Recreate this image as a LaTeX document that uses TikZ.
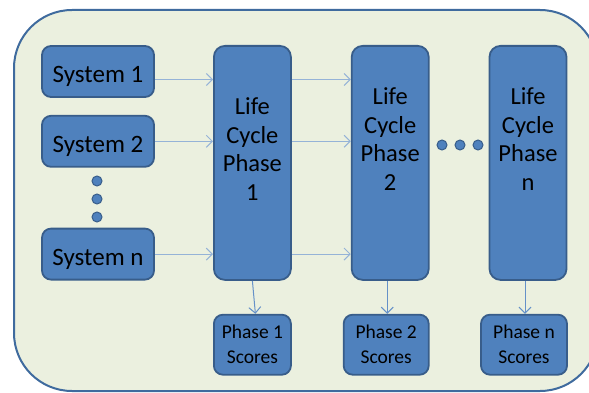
\documentclass[tikz,border=0pt]{standalone}
\usepackage{fontspec}
\setmainfont{Carlito}
\usepackage{xcolor}
\usetikzlibrary{arrows.meta, positioning}

\definecolor{bgfill}{HTML}{EBF0DF}
\definecolor{frameblue}{HTML}{3F6B9E}
\definecolor{boxfill}{HTML}{4F81BD}
\definecolor{boxedge}{HTML}{385D8A}
\definecolor{flowblue}{HTML}{95B3D7}
\definecolor{scoreblue}{HTML}{6591C8}

\begin{document}
\begin{tikzpicture}[x=1pt, y=-1pt, >={Straight Barb[length=6pt,width=12pt]}]
        \tikzset{
            sysbox/.style={rectangle, draw=boxedge, line width=1.8pt, fill=boxfill, rounded corners=9pt, minimum width=112pt, minimum height=51pt, text height=22pt, text depth=0pt, font=\fontsize{25}{29}\selectfont},
            phasebox/.style={rectangle, draw=boxedge, line width=1.8pt, fill=boxfill, rounded corners=11pt, minimum width=77pt, minimum height=234pt},
            phasetext/.style={align=center, font=\fontsize{24.5}{28.5}\selectfont, inner sep=0pt},
            scorebox/.style={rectangle, draw=boxedge, line width=1.8pt, fill=boxfill, rounded corners=9pt, minimum height=60pt, align=center, font=\fontsize{19.5}{25}\selectfont},
            dot/.style={circle, draw=boxedge, line width=1pt, fill=boxfill, inner sep=0pt, minimum size=10pt},
            flow/.style={->, draw=flowblue, line width=1pt},
            score/.style={->, draw=scoreblue, line width=1pt}
        }

        \useasboundingbox (0,0) rectangle (589,393);
        % outer panel
        \draw[fill=bgfill, draw=frameblue, line width=2pt, rounded corners=58pt] (14,10) rectangle (598,391);

        % systems
        \node[sysbox] (s1) at (98,71.5) {System 1};
        \node[sysbox, below=17pt of s1] (s2) {System 2};
        \node[sysbox, below=60pt of s2] (sn) {System n};
        \node[dot] (d1) at (97,181) {};
        \node[dot, below=7pt of d1] (d2) {};
        \node[dot, below=7pt of d2] (d3) {};

        % life cycle phases
        \node[phasebox, anchor=north west] (p1) at (213,45) {};
        \node[phasebox, right=59pt of p1] (p2) {};
        \node[phasebox, right=59pt of p2] (pn) {};
        \node[phasetext] (t1) at ([yshift=-104pt]p1.north) {Life\\Cycle\\Phase\\1};
        \node[phasetext] (t2) at ([yshift=-94pt]p2.north) {Life\\Cycle\\Phase\\2};
        \node[phasetext] (tn) at ([yshift=-94pt]pn.north) {Life\\Cycle\\Phase\\n};
        \node[dot] (h2) at (460,145) {};
        \node[dot, left=7pt of h2] (h1) {};
        \node[dot, right=7pt of h2] (h3) {};

        % scores
        \node[scorebox, minimum width=77pt, below=33pt of p1] (c1) {Phase 1\\Scores};
        \node[scorebox, minimum width=85pt, below=33pt of p2, xshift=-4pt] (c2) {Phase 2\\Scores};
        \node[scorebox, minimum width=86pt, below=33pt of pn, xshift=-4pt] (cn) {Phase n\\Scores};

        % inputs
        \draw[flow] ([yshift=-8pt]s1.east) -- ([yshift=-8pt]s1.east -| p1.west);
        \draw[flow] (s2.east) -- (s2.east -| p1.west);
        \draw[flow] (sn.east) -- (sn.east -| p1.west);
        \draw[flow] ([yshift=-8pt]s1.east -| p1.east) -- ([yshift=-8pt]s1.east -| p2.west);
        \draw[flow] (s2.east -| p1.east) -- (s2.east -| p2.west);
        \draw[flow] (sn.east -| p1.east) -- (sn.east -| p2.west);

        % outputs
        \draw[score] (p1.south) -- ([xshift=3pt]c1.north);
        \draw[score] ([xshift=-3pt]p2.south) -- ([xshift=-3pt]p2.south |- c2.north);
        \draw[score] ([xshift=-3pt]pn.south) -- ([xshift=-3pt]pn.south |- cn.north);

    \end{tikzpicture}
\end{document}
